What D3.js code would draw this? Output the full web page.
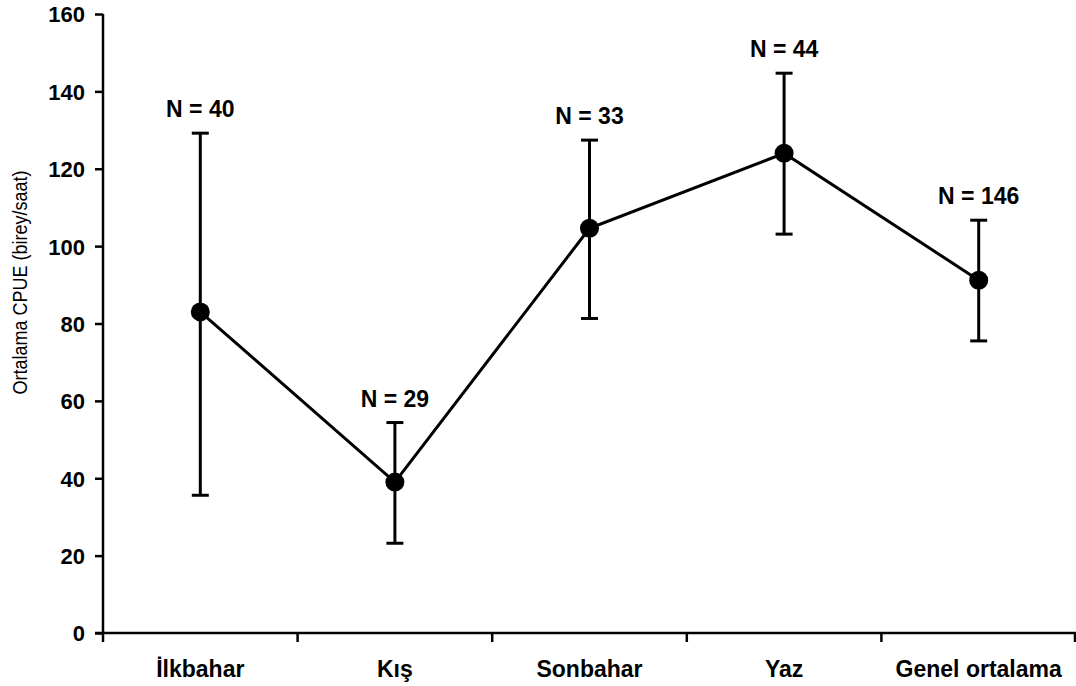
<!DOCTYPE html>
<html>
<head>
<meta charset="utf-8">
<script src="https://cdn.jsdelivr.net/npm/d3@7/dist/d3.min.js"></script>
<style>
  html, body { margin: 0; padding: 0; background: #fff; }
  svg { display: block; font-family: "Liberation Sans", Arial, sans-serif; }
</style>
</head>
<body>
<svg id="chart" width="1076" height="686"></svg>
<script>
// Mevsimlere göre ortalama CPUE ve hata çubukları
const seasons = ["İlkbahar", "Kış", "Sonbahar", "Yaz", "Genel ortalama"];
const meanCpue = [83, 39, 104.6, 124, 91.2];
const upperCpue = [129.2, 54.4, 127.4, 144.7, 106.7];
const lowerCpue = [35.6, 23.2, 81.3, 103.1, 75.5];
const sampleN = [40, 29, 33, 44, 146];
const yTicks = [0, 20, 40, 60, 80, 100, 120, 140, 160];

(function () {
const svg = d3.select("#chart");
const mLeft = 103, mRight = 1076, mTop = 14, mBottom = 633;

const x = d3.scaleBand().domain(seasons).range([mLeft, mRight]);
const y = d3.scaleLinear().domain([0, 160]).range([mBottom, mTop]);
const cx = d => x(d) + x.bandwidth() / 2;

const rows = seasons.map((s, i) => ({
  s, m: meanCpue[i], hi: upperCpue[i], lo: lowerCpue[i], n: sampleN[i]
}));

// Y ekseni
const yAxis = svg.append("g")
  .attr("transform", `translate(${mLeft},0)`)
  .call(d3.axisLeft(y).tickValues(yTicks).tickSize(8).tickPadding(10));
yAxis.select(".domain").attr("stroke", "#000").attr("stroke-width", 2.5)
  .attr("d", `M0,${mBottom + 1}V${mTop}`);
yAxis.selectAll(".tick line").attr("stroke", "#000").attr("stroke-width", 2.5);
yAxis.selectAll(".tick text")
  .attr("fill", "#000").style("font-size", "22px").style("font-weight", "bold")
  .attr("dy", "0.36em");

// X ekseni: kategori sınırlarında aşağı doğru çentikler
const xAxis = svg.append("g").attr("transform", `translate(0,${mBottom})`);
xAxis.append("line")
  .attr("x1", mLeft - 8).attr("x2", mRight)
  .attr("stroke", "#000").attr("stroke-width", 2.5);
const bounds = seasons.map(s => x(s)).concat([mRight - 1]);
xAxis.selectAll("line.tk").data(bounds).join("line")
  .attr("class", "tk")
  .attr("x1", d => d).attr("x2", d => d)
  .attr("y1", 0).attr("y2", 9)
  .attr("stroke", "#000").attr("stroke-width", 2.5);
xAxis.selectAll("text").data(seasons).join("text")
  .attr("x", d => cx(d)).attr("y", 44)
  .attr("text-anchor", "middle")
  .style("font-size", "23px").style("font-weight", "bold")
  .text(d => d);

// Y ekseni başlığı
svg.append("text")
  .attr("transform", `translate(27,${(mTop + mBottom) / 2 - 41}) rotate(-90)`)
  .attr("text-anchor", "middle")
  .attr("textLength", 224)
  .attr("lengthAdjust", "spacingAndGlyphs")
  .style("font-size", "20px")
  .text("Ortalama CPUE (birey/saat)");

// Hata çubukları
const eb = svg.append("g").attr("stroke", "#000").attr("stroke-width", 3);
eb.selectAll("line.v").data(rows).join("line").attr("class", "v")
  .attr("x1", d => cx(d.s)).attr("x2", d => cx(d.s))
  .attr("y1", d => y(d.hi)).attr("y2", d => y(d.lo));
eb.selectAll("line.cu").data(rows).join("line").attr("class", "cu")
  .attr("x1", d => cx(d.s) - 8.5).attr("x2", d => cx(d.s) + 8.5)
  .attr("y1", d => y(d.hi)).attr("y2", d => y(d.hi));
eb.selectAll("line.cl").data(rows).join("line").attr("class", "cl")
  .attr("x1", d => cx(d.s) - 8.5).attr("x2", d => cx(d.s) + 8.5)
  .attr("y1", d => y(d.lo)).attr("y2", d => y(d.lo));

// Ortalamaları birleştiren çizgi
svg.append("path").datum(rows)
  .attr("fill", "none").attr("stroke", "#000").attr("stroke-width", 3)
  .attr("d", d3.line().x(d => cx(d.s)).y(d => y(d.m)));

// Noktalar
svg.selectAll("circle.pt").data(rows).join("circle").attr("class", "pt")
  .attr("cx", d => cx(d.s)).attr("cy", d => y(d.m)).attr("r", 9.5)
  .attr("fill", "#000");

// Örnek sayısı etiketleri
svg.selectAll("text.n").data(rows).join("text").attr("class", "n")
  .attr("x", d => cx(d.s)).attr("y", d => y(d.hi) - 16)
  .attr("text-anchor", "middle")
  .style("font-size", "23px").style("font-weight", "bold")
  .text(d => `N = ${d.n}`);
})();
</script>
</body>
</html>
